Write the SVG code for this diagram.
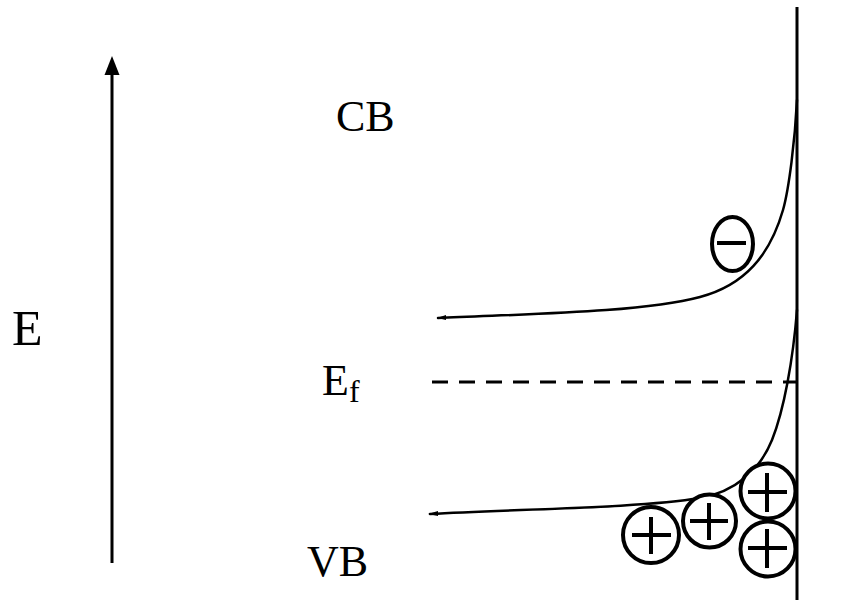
<svg xmlns="http://www.w3.org/2000/svg" width="862" height="603" viewBox="0 0 862 603">
  <style>
    .lbl { font-family: "Liberation Serif", "Times New Roman", serif; fill: #000; }
    .band { fill: none; stroke: #000; stroke-width: 2.5; stroke-linecap: round; }
    .ring { fill: #fff; stroke: #000; stroke-width: 4; }
    .sign { stroke: #000; stroke-width: 4; stroke-linecap: butt; }
  </style>
  <defs>
    <marker id="arrowhead" markerUnits="userSpaceOnUse" markerWidth="16" markerHeight="20" refX="8" refY="1" orient="auto-start-reverse" viewBox="0 0 16 20">
      <path d="M8,0 L15.5,18 L0.5,18 Z" fill="#000"/>
    </marker>
  </defs>
  <rect width="862" height="603" fill="#fff"/>

  <g id="axis">
    <line x1="112" y1="563" x2="112" y2="74" stroke="#000" stroke-width="3"/>
    <path d="M112,56 L119.5,75 L104.5,75 Z" fill="#000"/>
    <text class="lbl" x="12" y="345" font-size="50">E</text>
  </g>

  <g id="surface">
    <line x1="797" y1="7" x2="797" y2="600" stroke="#000" stroke-width="3"/>
  </g>

  <g id="connectors">
    <!-- conduction band edge bending up at the surface -->
    <path id="cb-edge" class="band" d="M438,318 C520,314 640,313 700,297 C745,285 770,255 783,210 C789,189 795,140 797,100"/>
    <path d="M437,318 L446,315 L446,320 Z" fill="#000"/>
    <!-- valence band edge -->
    <path id="vb-edge" class="band" d="M430,514 C520,509 640,508 700,498 C735,492 760,470 772,440 C784,410 793,360 797,310"/>
    <path d="M428,514 L438,511 L438,516 Z" fill="#000"/>
    <!-- Fermi level -->
    <line id="fermi" x1="432" y1="382" x2="797" y2="382" stroke="#000" stroke-width="3" stroke-dasharray="16 11"/>
  </g>

  <g id="label-cb">
    <text class="lbl" x="336" y="131" font-size="44">CB</text>
  </g>
  <g id="label-ef">
    <text class="lbl" x="322" y="395" font-size="44">E<tspan font-size="32" dy="7">f</tspan></text>
  </g>
  <g id="label-vb">
    <text class="lbl" x="307" y="576" font-size="44">VB</text>
  </g>

  <g id="electron">
    <ellipse class="ring" cx="732.5" cy="244" rx="20.5" ry="27"/>
    <line class="sign" x1="717" y1="243" x2="746" y2="243"/>
  </g>

  <g id="hole-1">
    <circle class="ring" cx="651" cy="535" r="28"/>
    <line class="sign" x1="632" y1="535" x2="671" y2="535"/>
    <line class="sign" x1="651" y1="517" x2="651" y2="554"/>
  </g>
  <g id="hole-2">
    <circle class="ring" cx="709.5" cy="521" r="26.5"/>
    <line class="sign" x1="690" y1="521" x2="728" y2="521"/>
    <line class="sign" x1="709" y1="503" x2="709" y2="540"/>
  </g>
  <g id="hole-3">
    <circle class="ring" cx="768" cy="491" r="27.5"/>
    <line class="sign" x1="748" y1="492" x2="787" y2="492"/>
    <line class="sign" x1="767" y1="473" x2="767" y2="512"/>
  </g>
  <g id="hole-4">
    <circle class="ring" cx="768" cy="549" r="27.5"/>
    <line class="sign" x1="748" y1="548" x2="787" y2="548"/>
    <line class="sign" x1="767" y1="529" x2="767" y2="568"/>
  </g>
</svg>
